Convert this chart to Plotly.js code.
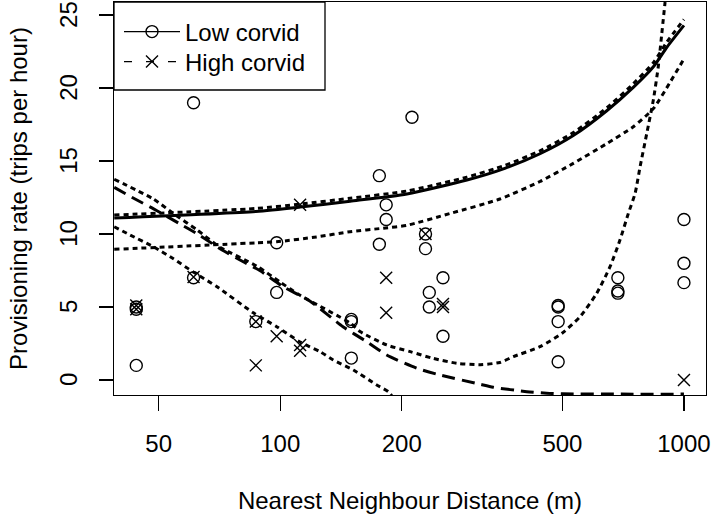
<!DOCTYPE html>
<html><head><meta charset="utf-8">
<script src="https://cdn.plot.ly/plotly-3.0.1.min.js"></script>
<style>html,body{margin:0;padding:0;background:#fff}#chart{width:711px;height:515px}</style>
</head><body><div id="chart"></div>
<script>
// observed points
const lowX = [44, 44, 44, 61, 61, 87, 98, 98, 150, 150, 150, 176, 176, 183, 183, 212, 229, 229, 234, 234, 253, 253, 488, 488, 488, 488, 686, 686, 686, 1000, 1000, 1000];
const lowY = [1, 5, 4.85, 19, 7, 4, 9.4, 6, 4, 4.15, 1.5, 14, 9.3, 12, 11, 18, 10, 9, 6, 5, 7, 3, 5.1, 5.0, 4, 1.25, 7, 6.1, 5.95, 11, 8, 6.67];
const highX = [44, 44, 61, 87, 87, 98, 112, 112, 112, 183, 183, 229, 253, 253, 1000];
const highY = [5.1, 4.85, 7.05, 4, 1, 3, 2.4, 2.0, 12, 7, 4.6, 10, 5.2, 5.0, 0];

// fitted curves
const lowFitX = [38.8, 87, 112, 149, 206, 290, 360, 440, 532, 644, 749, 840, 907, 1000];
const lowFitY = [11.1, 11.55, 11.85, 12.25, 12.75, 13.7, 14.5, 15.5, 16.75, 18.45, 20.05, 21.46, 22.8, 24.3];
const lowUpX = [38.8, 87, 112, 149, 206, 290, 360, 440, 532, 644, 749, 840, 907, 1000];
const lowUpY = [11.3, 11.75, 12.05, 12.45, 12.95, 13.9, 14.7, 15.7, 16.95, 18.65, 20.3, 21.75, 23.15, 24.7];
const lowLoX = [38.8, 87.5, 98, 123, 149, 180, 206, 263, 350, 440, 532, 644, 749, 840, 924, 1000];
const lowLoY = [8.95, 9.4, 9.47, 9.8, 10.16, 10.4, 10.6, 11.4, 12.4, 13.6, 14.84, 16.2, 17.35, 18.6, 20.4, 22.0];
const highFitX = [38.8, 43, 49.5, 56, 63.3, 71.8, 81, 89, 101.6, 118.6, 143, 163.8, 183.5, 218, 249, 313, 337, 408, 457, 500, 700, 1000];
const highFitY = [13.2, 12.5, 11.6, 10.75, 9.9, 8.9, 8.1, 7.5, 6.4, 5.4, 3.65, 2.62, 1.71, 0.8, 0.34, -0.3, -0.5, -0.8, -0.91, -0.95, -0.97, -0.97];
const highUpX = [38.8, 48.5, 54.4, 62.1, 70.9, 87.5, 100, 112, 149, 158, 183.5, 210, 239, 274, 313, 350, 378, 440, 499, 553, 608, 656, 694.5, 728, 757, 778.5, 809, 840, 864, 881, 898];
const highUpY = [13.75, 12.4, 11.4, 10.3, 9.1, 7.8, 6.7, 5.8, 3.9, 3.3, 2.4, 1.94, 1.48, 1.14, 1.05, 1.2, 1.6, 2.28, 3.2, 4.34, 5.94, 7.76, 9.6, 11.4, 12.8, 14.6, 16.9, 19.2, 21.5, 23.7, 25.9];
const highLoX = [38.8, 42.5, 48.5, 54.4, 60.9, 69.6, 85.8, 98, 112, 125.5, 135.3, 151.8, 173.4, 185.2, 189];
const highLoY = [10.5, 9.93, 9.13, 8.3, 7.4, 6.4, 4.6, 3.65, 2.6, 1.94, 1.37, 0.68, -0.34, -0.8, -1.1];

const xTicks = [50, 100, 200, 500, 1000];
const yTicks = [0, 5, 10, 15, 20, 25];
const seriesNames = ['Low corvid', 'High corvid'];

const FONT = 'Liberation Sans, Arial, Helvetica, sans-serif';
const dotted = '5px,4px';
function curve(x, y, dash, w) {
  return {x: x, y: y, mode: 'lines', type: 'scatter', showlegend: false, hoverinfo: 'skip',
    line: {color: '#000', width: w, dash: dash, shape: 'spline', smoothing: 0.6}};
}
const traces = [
  {x: lowX, y: lowY, mode: 'markers', type: 'scatter', showlegend: false,
   marker: {symbol: 'circle-open', size: 12, color: '#000', line: {width: 1.4, color: '#000'}}},
  {x: highX, y: highY, mode: 'markers', type: 'scatter', showlegend: false,
   marker: {symbol: 'x-thin-open', size: 12, color: '#000', line: {width: 1.4, color: '#000'}}},
  curve(lowLoX, lowLoY, dotted, 3),
  curve(lowUpX, lowUpY, dotted, 3),
  curve(lowFitX, lowFitY, 'solid', 3),
  curve(highLoX, highLoY, dotted, 3),
  curve(highUpX, highUpY, dotted, 3),
  curve(highFitX, highFitY, '13px,7px', 3),
  {x: [null], y: [null], mode: 'lines+markers', type: 'scatter', name: seriesNames[0], legend: 'legend',
   line: {color: '#000', width: 1.2}, marker: {symbol: 'circle-open', size: 12, color: '#000', line: {width: 1.4}}},
  {x: [null], y: [null], mode: 'lines+markers', type: 'scatter', name: seriesNames[1], legend: 'legend2',
   line: {color: '#000', width: 1.2, dash: '8px,14px'}, marker: {symbol: 'x-thin-open', size: 12, color: '#000', line: {width: 1.4}}}
];
const axisCommon = {showgrid: false, zeroline: false, showline: true, mirror: true, linecolor: '#000', linewidth: 1.3,
  ticks: 'outside', tickcolor: '#000', tickwidth: 1.3, ticklabeloverflow: 'allow',
  tickfont: {family: FONT, size: 24, color: '#000'}};
function legendAt(ypx) {
  return {x: (119 - 114) / 592, y: (395 - ypx) / 393, xanchor: 'left', yanchor: 'middle',
    bgcolor: 'rgba(0,0,0,0)', borderwidth: 0, itemwidth: 56,
    font: {family: FONT, size: 24, color: '#000'}};
}
const layout = {
  width: 711, height: 515, paper_bgcolor: '#fff', plot_bgcolor: '#fff',
  margin: {l: 114, r: 5, t: 2, b: 120, pad: 0},
  font: {family: FONT, color: '#000', size: 24},
  xaxis: Object.assign({}, axisCommon, {type: 'log', range: [Math.log10(38.75), Math.log10(1134)],
    tickmode: 'array', tickvals: xTicks, ticktext: xTicks.map(String), ticklen: 15, ticklabelstandoff: 12,
    title: {text: 'Nearest Neighbour Distance (m)', font: {family: FONT, size: 24, color: '#000'}, standoff: 36}}),
  yaxis: Object.assign({}, axisCommon, {range: [-1.03, 25.9], tickmode: 'array', tickvals: yTicks, ticktext: yTicks.map(String),
    ticklen: 14, tickangle: -90, ticklabelstandoff: 12, ticklabelshift: 3,
    title: {text: 'Provisioning rate (trips per hour)', font: {family: FONT, size: 24, color: '#000'}, standoff: 20}}),
  legend: legendAt(32),
  legend2: legendAt(62),
  shapes: [{type: 'rect', xref: 'paper', yref: 'paper', x0: 0, x1: (325 - 114) / 592, y0: (395 - 90) / 393, y1: 1,
    line: {color: '#000', width: 1.3}, fillcolor: '#fff', layer: 'above'}],
  showlegend: true
};
Plotly.newPlot('chart', traces, layout, {staticPlot: true, displayModeBar: false});
</script></body></html>
